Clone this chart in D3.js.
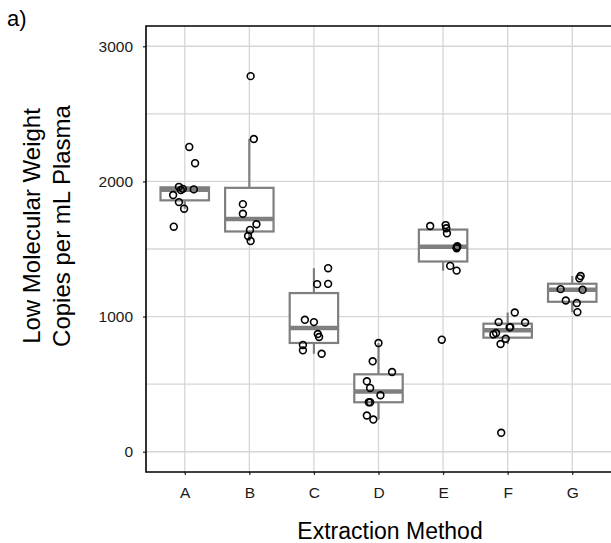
<!DOCTYPE html>
<html>
<head>
<meta charset="utf-8">
<script src="https://cdn.jsdelivr.net/npm/d3@7"></script>
<style>
  body { margin: 0; background: #fff; }
  svg { display: block; font-family: "Liberation Sans", Arial, Helvetica, sans-serif; }
</style>
</head>
<body>
<script>
const methods = ["A", "B", "C", "D", "E", "F", "G"];

// copies per mL, with the horizontal jitter of each point (in category steps)
const copiesA = [2255, 2135, 1960, 1936, 1945, 1941, 1899, 1847, 1798, 1665];
const jitterA = [0.07, 0.16, -0.09, -0.06, -0.03, 0.14, -0.18, -0.09, -0.01, -0.17];
const copiesB = [2779, 2314, 1832, 1761, 1683, 1641, 1596, 1559];
const jitterB = [0.02, 0.07, -0.10, -0.10, 0.11, 0.01, -0.02, 0.02];
const copiesC = [1358, 1240, 1242, 976, 959, 871, 849, 790, 750, 725];
const jitterC = [0.22, 0.05, 0.22, -0.14, 0.0, 0.06, 0.08, -0.17, -0.17, 0.12];
const copiesD = [804, 669, 590, 521, 472, 418, 366, 366, 268, 238];
const jitterD = [0.0, -0.09, 0.21, -0.18, -0.13, 0.03, -0.15, -0.13, -0.18, -0.08];
const copiesE = [1670, 1677, 1653, 1616, 1520, 1512, 1505, 1375, 1340, 829];
const jitterE = [-0.20, 0.04, 0.05, 0.06, 0.22, 0.21, 0.21, 0.11, 0.21, -0.02];
const copiesF = [1030, 956, 959, 922, 920, 878, 868, 836, 797, 140];
const jitterF = [0.11, 0.27, -0.14, 0.04, 0.03, -0.18, -0.22, -0.03, -0.11, -0.10];
const copiesG = [1300, 1283, 1203, 1198, 1119, 1100, 1033];
const jitterG = [0.13, 0.11, -0.18, 0.16, -0.10, 0.07, 0.08];

const yTicks = [0, 1000, 2000, 3000];
const yMinor = [500, 1500, 2500];

const groups = [
  [copiesA, jitterA], [copiesB, jitterB], [copiesC, jitterC], [copiesD, jitterD],
  [copiesE, jitterE], [copiesF, jitterF], [copiesG, jitterG]
].map(([vals, jit], i) => {
  const s = vals.slice().sort(d3.ascending);
  const q1 = d3.quantile(s, 0.25), med = d3.quantile(s, 0.5), q3 = d3.quantile(s, 0.75);
  const iqr = q3 - q1;
  return {
    method: methods[i],
    points: vals.map((v, j) => ({ v: v, j: jit[j] })),
    q1: q1, med: med, q3: q3,
    lo: d3.min(s.filter(v => v >= q1 - 1.5 * iqr)),
    hi: d3.max(s.filter(v => v <= q3 + 1.5 * iqr))
  };
});

const width = 611, height = 543;
const pLeft = 146, pRight = 611, pTop = 26, pBottom = 472;

const svg = d3.select("body").append("svg")
  .attr("width", width)
  .attr("height", height);

const x = d3.scalePoint().domain(methods).range([pLeft, pRight]).padding(0.6);
const y = d3.scaleLinear().domain([-150, 3150]).range([pBottom, pTop]);
const bw = x.step() * 0.75;

// grid
const grid = svg.append("g").attr("stroke", "#d6d6d6").attr("stroke-width", 1.3);
grid.selectAll("line.h")
  .data(yTicks.concat(yMinor))
  .join("line")
  .attr("class", "h")
  .attr("x1", pLeft).attr("x2", pRight)
  .attr("y1", d => y(d)).attr("y2", d => y(d));
grid.selectAll("line.v")
  .data(methods)
  .join("line")
  .attr("class", "v")
  .attr("x1", d => x(d)).attr("x2", d => x(d))
  .attr("y1", pTop).attr("y2", pBottom);

// boxes
const box = svg.append("g").selectAll("g")
  .data(groups)
  .join("g")
  .attr("stroke", "#7f7f7f")
  .attr("stroke-width", 2.2);

box.append("line")
  .attr("x1", d => x(d.method)).attr("x2", d => x(d.method))
  .attr("y1", d => y(d.hi)).attr("y2", d => y(d.q3));
box.append("line")
  .attr("x1", d => x(d.method)).attr("x2", d => x(d.method))
  .attr("y1", d => y(d.q1)).attr("y2", d => y(d.lo));
box.append("rect")
  .attr("x", d => x(d.method) - bw / 2)
  .attr("width", bw)
  .attr("y", d => y(d.q3))
  .attr("height", d => y(d.q1) - y(d.q3))
  .attr("fill", "#fff");
box.append("line")
  .attr("x1", d => x(d.method) - bw / 2).attr("x2", d => x(d.method) + bw / 2)
  .attr("y1", d => y(d.med)).attr("y2", d => y(d.med))
  .attr("stroke-width", 4.5);

// jittered points
svg.append("g").selectAll("g")
  .data(groups)
  .join("g")
  .selectAll("circle")
  .data(d => d.points.map(p => ({ m: d.method, v: p.v, j: p.j })))
  .join("circle")
  .attr("cx", d => x(d.m) + d.j * x.step())
  .attr("cy", d => y(d.v))
  .attr("r", 3.4)
  .attr("fill", "none")
  .attr("stroke", "#000")
  .attr("stroke-width", 1.6);

// axes
const yAxis = svg.append("g")
  .attr("transform", `translate(${pLeft},0)`)
  .call(d3.axisLeft(y).tickValues(yTicks).tickSize(3).tickPadding(10).tickFormat(d3.format("d")));
const xAxis = svg.append("g")
  .attr("transform", `translate(0,${pBottom})`)
  .call(d3.axisBottom(x).tickSize(3).tickPadding(12));

[yAxis, xAxis].forEach(a => {
  a.select(".domain").remove();
  a.selectAll(".tick line").attr("stroke", "#333").attr("stroke-width", 1.3);
  a.selectAll(".tick text")
    .attr("fill", "#1a1a1a")
    .style("font-size", "15.5px")
    .style("font-family", "'Liberation Sans', Arial, sans-serif");
});

svg.append("path")
  .attr("d", `M${pRight},${pTop}H${pLeft}V${pBottom}H${pRight}`)
  .attr("fill", "none")
  .attr("stroke", "#000")
  .attr("stroke-width", 1.6);

// labels
svg.append("text")
  .attr("x", 7).attr("y", 26)
  .style("font-size", "22px")
  .text("a)");

svg.append("text")
  .attr("x", 390).attr("y", 539)
  .attr("text-anchor", "middle")
  .style("font-size", "23px")
  .text("Extraction Method");

const yTitle = svg.append("text")
  .attr("transform", "translate(0,226) rotate(-90)")
  .attr("text-anchor", "middle")
  .style("font-size", "24px");
yTitle.append("tspan").attr("x", 0).attr("y", 40).text("Low Molecular Weight");
yTitle.append("tspan").attr("x", 0).attr("y", 70).text("Copies per mL Plasma");
</script>
</body>
</html>
